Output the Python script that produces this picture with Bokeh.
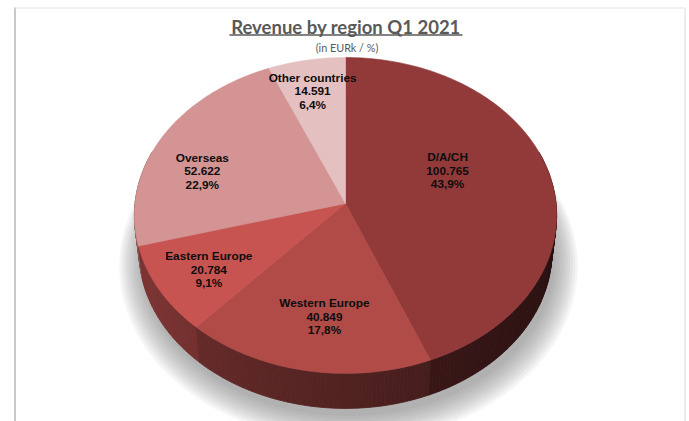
import numpy as np
from bokeh.plotting import figure
from bokeh.models import Range1d
from bokeh.core.properties import value
from bokeh.embed import file_html
from bokeh.resources import INLINE

# ---------------- data ----------------
regions = ["D/A/CH", "Western Europe", "Eastern Europe", "Overseas", "Other countries"]
revenue = [100765, 40849, 20784, 52622, 14591]          # EURk
colors = ["#923a3a", "#b04b48", "#c85452", "#d49494", "#e4c0c0"]
chart_title = "Revenue by region Q1 2021"
chart_subtitle = "(in EURk / %)"

# ---------------- layout / style ----------------
W, H = 689, 421
CX, CY = 345.0, 203.0        # projected pie centre (px)
XS = 210.5                   # horizontal radius scale (px)
SIN_E, COS_E = 0.746, 0.665  # elevation of view
PERSP = 1 / 8.78             # perspective strength
THICK = 0.264                # pie thickness (in radius units)
label_r = [0.537, 0.69, 0.75, 0.722, 0.773]
label_turn = [12.4, 2.1, 1.3, 9.0, 0.9]
LINE_GAP = 13.5


def project(u, v, h=0.0):
    u = np.asarray(u, dtype=float)
    v = np.asarray(v, dtype=float)
    z = v * COS_E - h * SIN_E
    s = 1.0 / (1.0 + z * PERSP)
    return CX + XS * u * s, CY - XS * (v * SIN_E + h * COS_E) * s


def shade(hexcol, f):
    r, g, b = (int(hexcol[i:i + 2], 16) for i in (1, 3, 5))
    return "#%02x%02x%02x" % (int(r * f), int(g * f), int(b * f))


p = figure(width=W, height=H, output_backend="svg", toolbar_location=None,
           x_range=Range1d(0, W), y_range=Range1d(H, 0),
           min_border=0, outline_line_color=None)
p.axis.visible = False
p.grid.visible = False
p.background_fill_color = "white"
p.border_fill_color = "white"

# frame lines
p.segment(x0=[14.5], y0=[7], x1=[14.5], y1=[H], line_color="#c8c8c8", line_width=2)
p.segment(x0=[14], y0=[7.5], x1=[684], y1=[7.5], line_color="#e4e4e4", line_width=1)
p.segment(x0=[684.5], y0=[7], x1=[684.5], y1=[H], line_color="#dadada", line_width=1)

total = float(sum(revenue))
fracs = [v / total for v in revenue]
cum = np.concatenate([[0.0], np.cumsum(fracs)])
starts = 90.0 - 360.0 * cum[:-1]
ends = 90.0 - 360.0 * cum[1:]

# ---------------- shadow ----------------
th = np.radians(np.linspace(0, 360, 181))
for k in range(10):
    sc = 1.0 + 0.012 * k
    sx, sy = project(sc * np.cos(th), sc * np.sin(th) - 0.02, -THICK)
    p.patch(sx + 3, sy + 4 + 0.6 * k, fill_color="#6a6a6a", fill_alpha=0.065, line_color=None)

# ---------------- side walls ----------------
qx, qy, qc, qd = [], [], [], []
for i in range(len(revenue)):
    n = max(int(abs(starts[i] - ends[i]) / 1.0), 2)
    ts = np.linspace(starts[i], ends[i], n + 1)
    for a0, a1 in zip(ts[:-1], ts[1:]):
        am = 0.5 * (a0 + a1)
        if not (-200.0 <= am <= 20.0):
            continue
        r0, r1 = np.radians(a0), np.radians(a1)
        tx, ty = project([np.cos(r0), np.cos(r1)], [np.sin(r0), np.sin(r1)], 0.0)
        bx, by = project([np.cos(r1), np.cos(r0)], [np.sin(r1), np.sin(r0)], -THICK)
        f = 0.46 - 0.17 * np.cos(np.radians(am))
        qx.append(list(tx) + list(bx))
        qy.append(list(ty) + list(by))
        qc.append(shade(colors[i], f))
        qd.append(np.sin(np.radians(am)))
order = np.argsort(qd)[::-1]
p.patches([qx[j] for j in order], [qy[j] for j in order],
          fill_color=[qc[j] for j in order], line_color=[qc[j] for j in order], line_width=0.8)

# ---------------- top face ----------------
for i in range(len(revenue)):
    ts = np.radians(np.linspace(starts[i], ends[i], 120))
    ax, ay = project(np.cos(ts), np.sin(ts), 0.0)
    xs = [CX] + list(ax)
    ys = [CY] + list(ay)
    p.patch(xs, ys, fill_color=colors[i], line_color=colors[i], line_width=0.6)

# ---------------- labels ----------------
def fmt_thousands(v):
    return "{:,}".format(v).replace(",", ".")


def fmt_pct(f):
    return ("%.1f" % (f * 100)).replace(".", ",") + "%"


lx, ly, lt = [], [], []
for i in range(len(revenue)):
    mid = np.radians(0.5 * (starts[i] + ends[i]) + label_turn[i])
    x0, y0 = project(label_r[i] * np.cos(mid), label_r[i] * np.sin(mid), 0.0)
    for k, txt in enumerate([regions[i], fmt_thousands(revenue[i]), fmt_pct(fracs[i])]):
        lx.append(float(x0))
        ly.append(float(y0) + (k - 1) * LINE_GAP)
        lt.append(txt)
p.text(x=lx, y=ly, text=lt, text_align="center", text_baseline="middle",
       text_font=value("Liberation Sans"), text_font_style="bold",
       text_font_size="11.8px", text_color="#0d0d0d")

# ---------------- title ----------------
p.text(x=[345.5], y=[26], text=[chart_title], text_align="center", text_baseline="middle",
       text_font=value("Lato"), text_font_style="bold", text_font_size="18.5px",
       text_color="#595959")
p.segment(x0=[229], y0=[34.5], x1=[462], y1=[34.5], line_color="#595959", line_width=1.3)
p.text(x=[346.5], y=[47], text=[chart_subtitle], text_align="center", text_baseline="middle",
       text_font=value("Lato"), text_font_size="10.8px", text_color="#595959")

open("out.html", "w").write(file_html(p, INLINE))
